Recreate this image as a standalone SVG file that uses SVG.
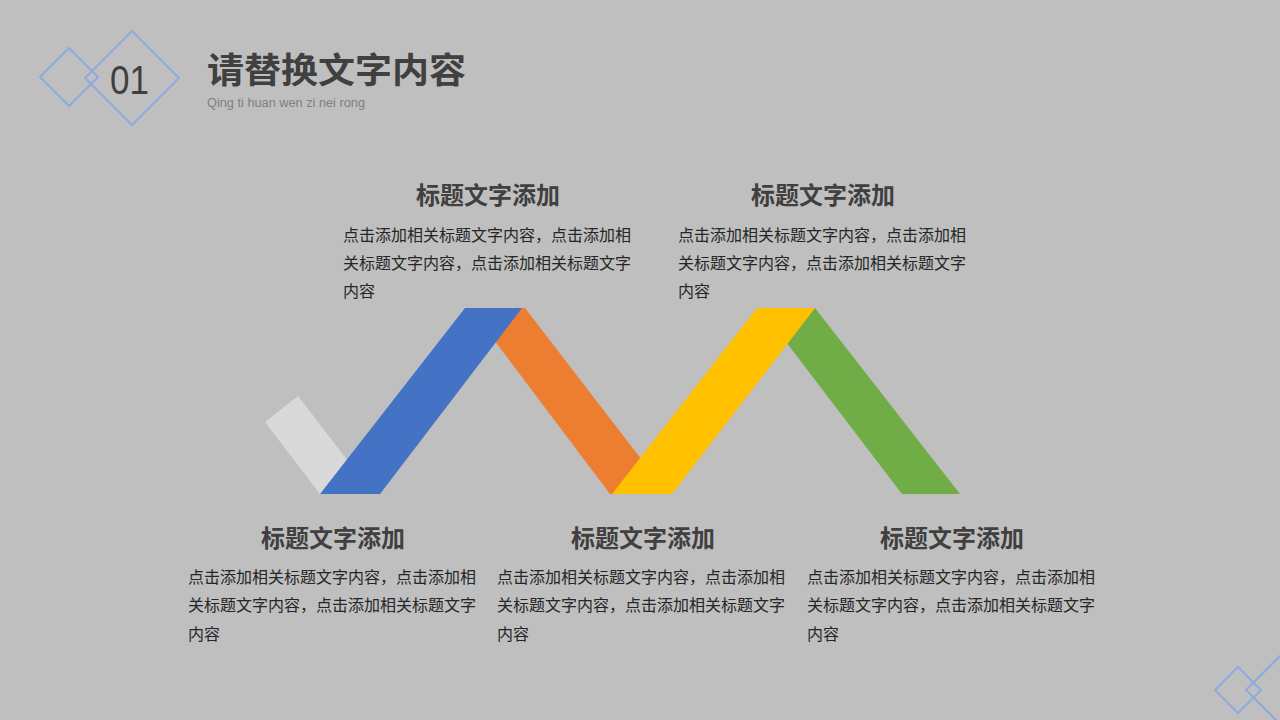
<svg xmlns="http://www.w3.org/2000/svg" width="1280" height="720" viewBox="0 0 1280 720">
<style>
.deco{fill:none;stroke:#8FAADC;stroke-width:2}
.ttl{font-family:"Noto Sans CJK SC","Noto Sans",sans-serif;font-weight:bold;font-size:24px;fill:#404040;text-anchor:middle}
.body{font-family:"Noto Sans CJK SC","Noto Sans",sans-serif;font-size:16px;fill:#262626}
</style>
<rect width="1280" height="720" fill="#BFBFBF"/>
<g id="header">
<polygon class="deco" points="40,77 69,48 98,77 69,106"/>
<polygon class="deco" points="85,78 132,31 179,78 132,125"/>
<text x="110" y="94" font-family="Liberation Sans, sans-serif" font-size="40" fill="#404040" textLength="39" lengthAdjust="spacingAndGlyphs">01</text>
<text x="207" y="83" font-family="Noto Sans CJK SC, sans-serif" font-weight="bold" font-size="35" fill="#404040" textLength="259" lengthAdjust="spacingAndGlyphs">请替换文字内容</text>
<text x="207" y="107" font-family="Liberation Sans, sans-serif" font-size="12" fill="#808080" textLength="158" lengthAdjust="spacingAndGlyphs">Qing ti huan wen zi nei rong</text>
</g>
<g id="corner-deco">
<polygon class="deco" points="1215,690 1238,667 1261,690 1238,713"/>
<polygon class="deco" points="1246,690 1290,646 1334,690 1290,734"/>
</g>
<g id="ribbon">
<polygon fill="#D9D9D9" points="265,422 298,396 358,474 320,494"/>
<polygon fill="#ED7D31" points="470,308 525,308 668,494 610,494"/>
<polygon fill="#70AD47" points="760,308 815,308 960,494 902,494"/>
<polygon fill="#4472C4" points="320,494 380,494 522,308 465,308"/>
<polygon fill="#FFC000" points="612,494 672,494 815,308 757,308"/>
</g>
<g id="node-top-1">
<text class="ttl" x="488" y="204">标题文字添加</text>
<text class="body" x="343" y="241">点击添加相关标题文字内容，点击添加相</text>
<text class="body" x="343" y="269">关标题文字内容，点击添加相关标题文字</text>
<text class="body" x="343" y="297">内容</text>
</g>
<g id="node-top-2">
<text class="ttl" x="823" y="204">标题文字添加</text>
<text class="body" x="678" y="241">点击添加相关标题文字内容，点击添加相</text>
<text class="body" x="678" y="269">关标题文字内容，点击添加相关标题文字</text>
<text class="body" x="678" y="297">内容</text>
</g>
<g id="node-bottom-1">
<text class="ttl" x="333" y="547">标题文字添加</text>
<text class="body" x="188" y="583">点击添加相关标题文字内容，点击添加相</text>
<text class="body" x="188" y="611">关标题文字内容，点击添加相关标题文字</text>
<text class="body" x="188" y="640">内容</text>
</g>
<g id="node-bottom-2">
<text class="ttl" x="643" y="547">标题文字添加</text>
<text class="body" x="497" y="583">点击添加相关标题文字内容，点击添加相</text>
<text class="body" x="497" y="611">关标题文字内容，点击添加相关标题文字</text>
<text class="body" x="497" y="640">内容</text>
</g>
<g id="node-bottom-3">
<text class="ttl" x="952" y="547">标题文字添加</text>
<text class="body" x="807" y="583">点击添加相关标题文字内容，点击添加相</text>
<text class="body" x="807" y="611">关标题文字内容，点击添加相关标题文字</text>
<text class="body" x="807" y="640">内容</text>
</g>
<g id="connectors"></g>
</svg>
